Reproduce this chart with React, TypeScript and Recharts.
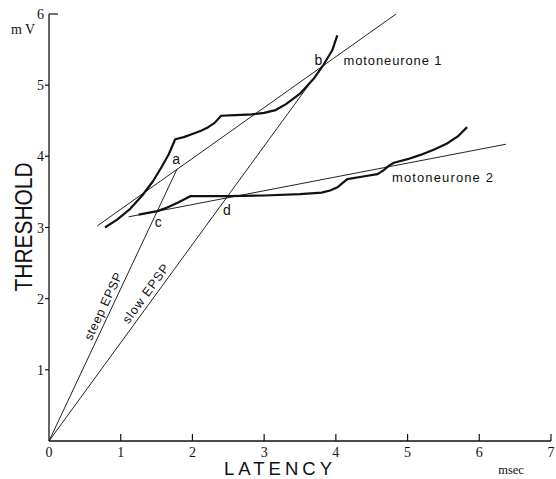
import { LineChart, Line, XAxis, YAxis, ReferenceDot, Customized } from 'recharts';

// axis ticks
const latencyTicks = [0, 1, 2, 3, 4, 5, 6, 7];
const thresholdTicks = [1, 2, 3, 4, 5, 6];

// EPSP rise lines from the origin (msec, mV)
const steepEpsp = [{ x: 0, y: 0 }, { x: 1.785, y: 3.82 }];
const slowEpsp = [{ x: 0, y: 0 }, { x: 3.83, y: 5.29 }];

// straight lines fitted to each threshold curve
const tangent1 = [{ x: 0.674, y: 3.023 }, { x: 4.84, y: 6.0 }];
const tangent2 = [{ x: 1.11, y: 3.15 }, { x: 6.37, y: 4.17 }];

// threshold curves (kinks are kept sharp, so plotted point to point)
const motoneurone1 = [
  { x: 0.78, y: 3.0 }, { x: 0.95, y: 3.11 }, { x: 1.12, y: 3.25 }, { x: 1.3, y: 3.45 },
  { x: 1.45, y: 3.65 }, { x: 1.57, y: 3.85 }, { x: 1.67, y: 4.03 }, { x: 1.76, y: 4.24 },
  { x: 1.88, y: 4.27 }, { x: 1.99, y: 4.31 }, { x: 2.12, y: 4.36 }, { x: 2.22, y: 4.41 },
  { x: 2.31, y: 4.47 }, { x: 2.4, y: 4.57 }, { x: 2.6, y: 4.58 }, { x: 2.83, y: 4.59 },
  { x: 3.0, y: 4.61 }, { x: 3.16, y: 4.65 }, { x: 3.3, y: 4.73 }, { x: 3.5, y: 4.88 },
  { x: 3.69, y: 5.09 }, { x: 3.83, y: 5.29 }, { x: 3.95, y: 5.49 }, { x: 4.02, y: 5.7 },
];
const motoneurone2 = [
  { x: 1.25, y: 3.18 }, { x: 1.51, y: 3.23 }, { x: 1.65, y: 3.28 }, { x: 1.8, y: 3.35 },
  { x: 1.97, y: 3.44 }, { x: 2.5, y: 3.44 }, { x: 3.0, y: 3.45 }, { x: 3.5, y: 3.47 },
  { x: 3.8, y: 3.49 }, { x: 3.92, y: 3.52 }, { x: 4.03, y: 3.57 }, { x: 4.1, y: 3.63 },
  { x: 4.16, y: 3.68 }, { x: 4.4, y: 3.72 }, { x: 4.58, y: 3.75 }, { x: 4.66, y: 3.8 },
  { x: 4.74, y: 3.87 }, { x: 4.81, y: 3.91 }, { x: 5.0, y: 3.96 }, { x: 5.18, y: 4.02 },
  { x: 5.38, y: 4.1 }, { x: 5.55, y: 4.18 }, { x: 5.7, y: 4.28 }, { x: 5.83, y: 4.41 },
];

// intersection letters and curve names
const pointLetters = [
  { text: 'a', x: 1.772, y: 3.96 },
  { text: 'b', x: 3.757, y: 5.357 },
  { text: 'c', x: 1.525, y: 3.084 },
  { text: 'd', x: 2.479, y: 3.248 },
];
const curveNames = [
  { text: 'motoneurone 1', x: 4.107, y: 5.357, len: 98 },
  { text: 'motoneurone 2', x: 4.782, y: 3.708, len: 101 },
];
const epspNames = [
  { text: 'steep EPSP', x: 0.758, y: 1.888, angle: -64.8, len: 73 },
  { text: 'slow EPSP', x: 1.351, y: 2.067, angle: -53.8, len: 70 },
];

const SERIF = '"Liberation Serif", "DejaVu Serif", serif';
const SANS = '"Liberation Sans", Arial, sans-serif';
const INK = '#111';

function LatencyTick(props: any) {
  const { x, y, payload } = props;
  return (
    <g>
      {payload.value > 0 && <line x1={x} x2={x} y1={y} y2={y - 7} stroke={INK} strokeWidth={1.2} />}
      <text x={x} y={y + 16} textAnchor="middle" fontFamily={SERIF} fontSize={14} fill={INK}>
        {payload.value}
      </text>
    </g>
  );
}

function ThresholdTick(props: any) {
  const { x, y, payload } = props;
  const top = payload.value === 6;
  return (
    <g>
      <line x1={x} x2={top ? x + 9 : x - 4} y1={y} y2={y} stroke={INK} strokeWidth={1.2} />
      <text x={x - 5} y={y + 5} textAnchor="end" fontFamily={SERIF} fontSize={14} fill={INK}>
        {payload.value}
      </text>
    </g>
  );
}

const letterLabel = (text: string) => (props: any) => {
  const { x, y } = props.viewBox;
  return (
    <text x={x} y={y + 5} textAnchor="middle" fontFamily={SANS} fontSize={14} fill={INK}>
      {text}
    </text>
  );
};

const nameLabel = (text: string, len: number) => (props: any) => {
  const { x, y } = props.viewBox;
  return (
    <text x={x} y={y + 5} fontFamily={SANS} fontSize={13} fill={INK} textLength={len} lengthAdjust="spacing">
      {text}
    </text>
  );
};

const slantLabel = (text: string, angle: number, len: number) => (props: any) => {
  const { x, y } = props.viewBox;
  return (
    <text
      x={x}
      y={y + 4}
      textAnchor="middle"
      fontFamily={SANS}
      fontSize={12.5}
      fill={INK}
      textLength={len}
      lengthAdjust="spacing"
      transform={`rotate(${angle} ${x} ${y})`}
    >
      {text}
    </text>
  );
};

function AxisTitles() {
  return (
    <g fill={INK}>
      <text
        x={0}
        y={0}
        transform="translate(32 227) rotate(-90)"
        textAnchor="middle"
        fontFamily={SANS}
        fontSize={23}
        textLength={129}
        lengthAdjust="spacingAndGlyphs"
      >
        THRESHOLD
      </text>
      <text x={278} y={475} textAnchor="middle" fontFamily={SANS} fontSize={18.5} textLength={108} lengthAdjust="spacing">
        LATENCY
      </text>
      <text x={23} y={34} textAnchor="middle" fontFamily={SERIF} fontSize={14}>
        m V
      </text>
      <text x={511} y={474} textAnchor="middle" fontFamily={SERIF} fontSize={12.5}>
        msec
      </text>
    </g>
  );
}

export default function App() {
  const thin = { type: 'linear' as const, dot: false, stroke: '#222', strokeWidth: 1, isAnimationActive: false };
  const thick = {
    type: 'linear' as const,
    dot: false,
    stroke: INK,
    strokeWidth: 2.2,
    strokeLinejoin: 'round' as const,
    isAnimationActive: false,
  };
  return (
    <div style={{ position: 'absolute', left: 0, top: 0, background: '#fff' }}>
      <LineChart width={556} height={479} margin={{ top: 14, right: 5, bottom: 0, left: 48 }}>
        <XAxis
          type="number"
          dataKey="x"
          domain={[0, 7]}
          ticks={latencyTicks}
          height={38}
          tickSize={0}
          tickMargin={0}
          tickLine={false}
          stroke={INK}
          strokeWidth={1.3}
          tick={LatencyTick}
          interval={0}
        />
        <YAxis
          type="number"
          dataKey="y"
          domain={[0, 6]}
          ticks={thresholdTicks}
          width={1}
          tickSize={0}
          tickMargin={0}
          tickLine={false}
          stroke={INK}
          strokeWidth={1.3}
          tick={ThresholdTick}
          interval={0}
        />
        <Line data={steepEpsp} dataKey="y" {...thin} />
        <Line data={slowEpsp} dataKey="y" {...thin} />
        <Line data={tangent1} dataKey="y" {...thin} />
        <Line data={tangent2} dataKey="y" {...thin} />
        <Line data={motoneurone1} dataKey="y" {...thick} />
        <Line data={motoneurone2} dataKey="y" {...thick} />
        {pointLetters.map((p) => (
          <ReferenceDot key={p.text} x={p.x} y={p.y} r={0} stroke="none" fill="none" label={letterLabel(p.text)} />
        ))}
        {curveNames.map((p) => (
          <ReferenceDot key={p.text} x={p.x} y={p.y} r={0} stroke="none" fill="none" label={nameLabel(p.text, p.len)} />
        ))}
        {epspNames.map((p) => (
          <ReferenceDot
            key={p.text}
            x={p.x}
            y={p.y}
            r={0}
            stroke="none"
            fill="none"
            label={slantLabel(p.text, p.angle, p.len)}
          />
        ))}
        <Customized component={AxisTitles} />
      </LineChart>
    </div>
  );
}
